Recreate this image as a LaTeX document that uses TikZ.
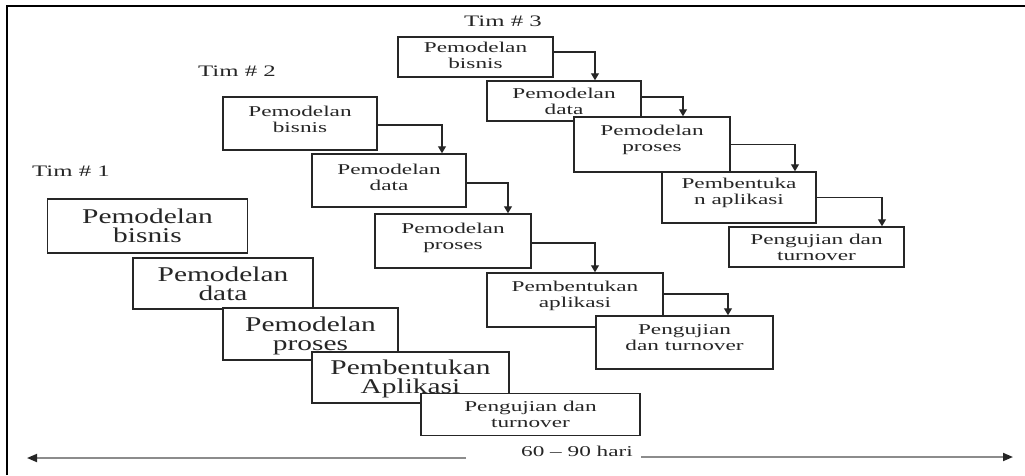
\documentclass[tikz,border=0pt]{standalone}
\usepackage{fontspec}
\usetikzlibrary{arrows.meta}
\newfontfamily\bigserif[FakeStretch=1.4]{Liberation Serif}
\newfontfamily\smallserif[FakeStretch=1.55]{Liberation Serif}
\begin{document}
\begin{tikzpicture}[x=1pt,y=-1pt,
  stage/.style={draw=black!85, line width=1.5pt, fill=white, inner sep=0pt},
  bigtxt/.style={align=center, inner sep=0pt, text=black!85,
    font=\bigserif\fontsize{21}{19}\selectfont},
  smalltxt/.style={align=center, inner sep=0pt, text=black!85,
    font=\smallserif\fontsize{15}{16}\selectfont},
  team/.style={inner sep=0pt, text=black!85, font=\smallserif\fontsize{16}{16}\selectfont},
  flow/.style={draw=black!85, line width=1.2pt, -{Triangle[length=7pt,width=8pt]}},
  span/.style={draw=black!45, line width=1.8pt,
    -{Triangle[length=10pt,width=8pt,color=black!85]}}
]
\useasboundingbox (0,0) rectangle (1025,475);
% frame
\draw[line width=2pt] (7,475) -- (7,6) -- (1025,6);

% ---- team labels
\node[team] (tim1) at (71,171) {Tim \# 1};
\node[team] (tim2) at (237,71) {Tim \# 2};
\node[team] (tim3) at (503,21) {Tim \# 3};

% ---- boxes (drawn first, texts go on top)
% team 1
\node[stage, minimum width=200pt, minimum height=54pt] (t1b1) at (147.5,226) {};
\node[stage, minimum width=180pt, minimum height=51pt] (t1b2) at (223,283.5) {};
\node[stage, minimum width=175pt, minimum height=52pt] (t1b3) at (310.5,334) {};
\node[stage, minimum width=197pt, minimum height=51pt] (t1b4) at (410.5,377.5) {};
\node[stage, minimum width=219pt, minimum height=42pt] (t1b5) at (530.5,414.5) {};
% team 2
\node[stage, minimum width=154pt, minimum height=53pt] (t2b1) at (300,123.5) {};
\node[stage, minimum width=154pt, minimum height=53pt] (t2b2) at (389,180.5) {};
\node[stage, minimum width=156pt, minimum height=54pt] (t2b3) at (453,241) {};
\node[stage, minimum width=176pt, minimum height=54pt] (t2b4) at (575,300) {};
\node[stage, minimum width=177pt, minimum height=53pt] (t2b5) at (684.5,342.5) {};
% team 3
\node[stage, minimum width=155pt, minimum height=40pt] (t3b1) at (475.5,57) {};
\node[stage, minimum width=154pt, minimum height=40pt] (t3b2) at (564,101) {};
\node[stage, minimum width=156pt, minimum height=55pt] (t3b3) at (652,144.5) {};
\node[stage, minimum width=154pt, minimum height=51pt] (t3b4) at (739,197.5) {};
\node[stage, minimum width=175pt, minimum height=40pt] (t3b5) at (816.5,247) {};

% ---- texts
\node[bigtxt] (t1b1t) at (t1b1) {Pemodelan\\bisnis};
\node[bigtxt] (t1b2t) at (t1b2) {Pemodelan\\data};
\node[bigtxt] (t1b3t) at ([yshift=-2pt]t1b3.center) {Pemodelan\\proses};
\node[bigtxt] (t1b4t) at ([yshift=-1pt]t1b4.center) {Pembentukan\\Aplikasi};
\node[smalltxt] (t1b5t) at (t1b5) {Pengujian dan\\turnover};

\node[smalltxt] (t2b1t) at ([yshift=4pt]t2b1.center) {Pemodelan\\bisnis};
\node[smalltxt] (t2b2t) at ([yshift=3pt]t2b2.center) {Pemodelan\\data};
\node[smalltxt] (t2b3t) at ([yshift=3pt]t2b3.center) {Pemodelan\\proses};
\node[smalltxt] (t2b4t) at ([yshift=4pt]t2b4.center) {Pembentukan\\aplikasi};
\node[smalltxt] (t2b5t) at ([yshift=4.5pt]t2b5.center) {Pengujian\\dan turnover};

\node[smalltxt] (t3b1t) at ([yshift=2pt]t3b1.center) {Pemodelan\\bisnis};
\node[smalltxt] (t3b2t) at (t3b2) {Pemodelan\\data};
\node[smalltxt] (t3b3t) at ([yshift=5pt]t3b3.center) {Pemodelan\\proses};
\node[smalltxt] (t3b4t) at ([yshift=5pt]t3b4.center) {Pembentuka\\n aplikasi};
\node[smalltxt] (t3b5t) at (t3b5) {Pengujian dan\\turnover};

% ---- hand-offs within a team
\draw[flow] ([yshift=-1.5pt]t2b1.east) -| ([xshift=53pt]t2b2.north);
\draw[flow] ([yshift=-2.5pt]t2b2.east) -| ([xshift=55pt]t2b3.north);
\draw[flow] ([yshift=-2pt]t2b3.east) -| ([xshift=20pt]t2b4.north);
\draw[flow] ([yshift=6pt]t2b4.east) -| ([xshift=43.5pt]t2b5.north);

\draw[flow] ([yshift=5pt]t3b1.east) -| ([xshift=31pt]t3b2.north);
\draw[flow] ([yshift=4pt]t3b2.east) -| ([xshift=31pt]t3b3.north);
\draw[flow] (t3b3.east) -| ([xshift=56pt]t3b4.north);
\draw[flow] (t3b4.east) -| ([xshift=65.5pt]t3b5.north);

% ---- time span
\node[smalltxt] (dur) at (577,451) {60 – 90 hari};
\coordinate (spanL) at (466,458);
\coordinate (spanLend) at (27,458);
\coordinate (spanR) at (641,457);
\coordinate (spanRend) at (1013,457);
\draw[span] (spanL) -- (spanLend);
\draw[span] (spanR) -- (spanRend);
\end{tikzpicture}
\end{document}
